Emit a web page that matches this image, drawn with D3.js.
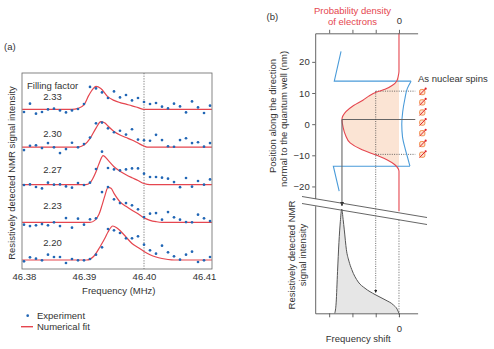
<!DOCTYPE html>
<html>
<head>
<meta charset="utf-8">
<script src="https://cdn.jsdelivr.net/npm/d3@7"></script>
<style>
  body { margin: 0; background: #fff; }
  svg { display: block; font-family: "Liberation Sans", Arial, Helvetica, sans-serif; }
</style>
</head>
<body>
<div id="chart"></div>
<script>
// ---------- panel (a): RD-NMR spectra ----------
var fillingFactors = ["2.33", "2.30", "2.27", "2.23", "2.20"];
var freqTicks = [46.38, 46.39, 46.40, 46.41];
var expFreq = [46.380, 46.381, 46.382, 46.383, 46.384, 46.385, 46.386, 46.387,
               46.388, 46.389, 46.390, 46.391, 46.392, 46.393, 46.394, 46.395,
               46.396, 46.397, 46.398, 46.399, 46.400, 46.401, 46.402, 46.403,
               46.404, 46.405, 46.406, 46.407, 46.408, 46.409, 46.410, 46.411];

// experiment points (arb. units, above each trace baseline)
var exp233 = [-2.6, 5.7, -4.3, -2.6, 0, 0.7, -1, -3, -1, 0.4, 5.4, 22.5, 21, 17, 11.4, 18,
              12, 14.4, 9, 11.4, 7.4, 5.4, 6.4, 2.7, 1, 5.7, 3, -3, 8, 2, -3.6, 3.7];
var exp230 = [-3, 1.3, 1.7, -1, 4, -0.3, -6, -2, 4.3, -0.3, 3, 9.5, 23.7, 24.5, 18.7, 14.8,
              16.3, 12.5, 17.8, 7.5, 6.8, 6.3, 12.2, 7, 0.8, 0.3, 7, 8.8, 4, 4.8, 0.4, 4];
var exp227 = [-0.3, 0.3, -2.3, -3.7, 2, 0, 0.3, -1.7, -3, 1.7, -0.3, 2, 15.7, 33, 16.7, 15.3,
              14.3, 15.3, 16.3, 16.3, 11, 7.7, 7.7, 7, 6, 2.6, -2.5, 6.7, -2, 3.7, 0, 5.3];
var exp223 = [-2.3, -3.7, -3, -1.7, -3, 0, -3.7, 4.3, -5.3, 3.7, -2.3, 3, 4, 30.3, 35.3, 23,
              19.3, 19.3, 17, 13, 5.3, 8.7, 9.3, 2.7, 10.3, 5, 2.7, 0.3, 0, 7.7, 4, 1.3];
var exp220 = [-1.3, 2.7, 1.3, -0.3, 5.3, 3, 3, -3, 1, -0.3, -0.3, 1, 5.3, 12.7, 31, 29.7,
              27, 21.7, 21.7, 23.7, 15.3, 9.7, 6.3, 14.3, 7.7, 3.7, 0.3, 5.3, 8.3, -2, -0.3, 3];

var fit233 = [[46.3797, 0], [46.388, 0], [46.389, 1], [46.390, 4.5], [46.3908, 14], [46.3915, 20.5],
              [46.392, 23], [46.3928, 21], [46.394, 12.5], [46.395, 9], [46.396, 6.8], [46.397, 5.2],
              [46.398, 3.6], [46.399, 1.8], [46.400, 0], [46.4113, 0]];
var fit230 = [[46.3797, 0], [46.389, 0], [46.390, 2], [46.391, 8.5], [46.392, 19], [46.3928, 25.5],
              [46.3935, 24], [46.394, 21], [46.395, 15.5], [46.396, 12], [46.397, 9.5], [46.398, 7],
              [46.399, 4], [46.400, 1], [46.4005, 0], [46.4113, 0]];
var fit227 = [[46.3797, 0], [46.3903, 0], [46.391, 2], [46.392, 13], [46.3925, 21], [46.3932, 29],
              [46.394, 24.5], [46.395, 18], [46.396, 13.5], [46.397, 10], [46.398, 7], [46.399, 4.2],
              [46.400, 1.2], [46.401, 0], [46.4113, 0]];
var fit223 = [[46.3797, 0], [46.391, 0], [46.3918, 2], [46.3925, 8], [46.393, 17], [46.3935, 27],
              [46.394, 35], [46.3945, 34], [46.395, 29], [46.396, 20.5], [46.397, 16], [46.398, 12],
              [46.399, 8.5], [46.400, 4.5], [46.401, 2], [46.402, 0.7], [46.403, 0], [46.4113, 0]];
var fit220 = [[46.3797, 0], [46.3905, 0], [46.3916, 3.5], [46.3927, 13.5], [46.3935, 22], [46.394, 28],
              [46.3948, 34], [46.3955, 32], [46.396, 29.5], [46.397, 23], [46.398, 16.5], [46.399, 12.5],
              [46.400, 8.5], [46.401, 5.3], [46.402, 3], [46.403, 1.5], [46.404, 0.5], [46.405, 0],
              [46.4113, 0]];

// ---------- panel (b): wavefunction and spectrum ----------
var positionTicks = [20, 10, 0, -10, -20];
var densityPos = [29.2, 17, 15.5, 13.8, 12.5, 11.2, 10.3, 9, 7.7, 6, 4, 1.5, -1, -3.5, -6, -8,
                  -10, -11.5, -12.8, -13.8, -15, -28];
var density = [0, 0, 0.03, 0.1, 0.28, 0.6, 0.96, 1.3, 1.55, 1.95, 2.28, 2.45, 2.4, 2.3, 2.1, 1.65,
               0.96, 0.5, 0.22, 0.08, 0, 0];
// quantum well potential, [density-axis units, position nm]
var wellTop = [[2.49, 23.4], [2.78, 13.8], [-0.52, 13.8]];
var wellWall = [[-0.52, 13.8], [-0.36, 11.5], [-0.25, 8], [-0.16, 4], [-0.12, 0], [-0.15, -4],
                [-0.27, -8], [-0.38, -11], [-0.47, -13.5]];
var wellBottom = [[-0.47, -13.5], [2.82, -13.5], [2.57, -21.5]];
var spinPos = [10.3, 7, 3.75, 0.5, -2.9, -6.4, -9.8];
var specShift = [-2.76, -2.7, -2.64, -2.58, -2.52, -2.46, -2.4, -2.35, -2.26, -2.15, -2.03, -1.75,
                 -1.46, -1.03, -0.6, -0.24, -0.08, 0];
var specSignal = [0, 0.1, 0.4, 0.68, 0.88, 1.0, 0.9, 0.8, 0.61, 0.5, 0.42, 0.3, 0.24, 0.18, 0.13,
                  0.08, 0.04, 0];

function init(){
    var w = 494;
    var h = 349;
    var fs = "9.5px";
    var textCol = "#333";
    var axisCol = "#555";
    var red = "#e5464f";
    var blue = "#2166b5";

    var svg = d3.select("#chart")
        .append("svg")
        .attr("width", w)
        .attr("height", h);

    // ================= panel (a) =================
    var fa = { left: 22, right: 212, top: 73, bottom: 269 };
    var xa = d3.scaleLinear().domain([46.37967, 46.41133]).range([fa.left, fa.right]);
    var ya = d3.scaleLinear().domain([-9, 187]).range([fa.bottom, fa.top]);
    var step = 37.65;

    var expSets = [exp233, exp230, exp227, exp223, exp220];
    var fitSets = [fit233, fit230, fit227, fit223, fit220];
    var traces = fillingFactors.map(function(f, i){
        return { label: f, idx: i, offset: (4 - i) * step, exp: expSets[i], fit: fitSets[i] };
    });

    svg.append("text").attr("x", 4).attr("y", 50)
        .style("font-size", fs).style("fill", textCol).text("(a)");

    // dotted marker at 46.40
    svg.append("line")
        .attr("x1", xa(46.40)).attr("x2", xa(46.40))
        .attr("y1", fa.top).attr("y2", fa.bottom)
        .attr("stroke", "#777").attr("stroke-width", 0.9)
        .attr("stroke-dasharray", "1.3,1.3");

    var fitLine = d3.line().curve(d3.curveMonotoneX);

    var g = svg.selectAll(".trace")
        .data(traces)
        .enter()
        .append("g")
        .attr("class", "trace");

    g.append("path")
        .attr("d", function(t){
            return fitLine(t.fit.map(function(p){ return [xa(p[0]), ya(p[1] + t.offset)]; }));
        })
        .attr("fill", "none")
        .attr("stroke", red)
        .attr("stroke-width", 1.2);

    g.selectAll("circle")
        .data(function(t){ return t.exp.map(function(v, j){ return { f: expFreq[j], v: v + t.offset }; }); })
        .enter()
        .append("circle")
        .attr("cx", d => xa(d.f))
        .attr("cy", d => ya(d.v))
        .attr("r", 1.35)
        .attr("fill", blue);

    // filling factor labels sit a little higher above the lower traces
    g.append("text")
        .attr("x", 52.5)
        .attr("y", t => ya(t.offset) - 9 - t.idx * 1.3)
        .attr("text-anchor", "middle")
        .style("font-size", fs).style("fill", textCol)
        .text(t => t.label);

    svg.append("text")
        .attr("x", 27).attr("y", ya(traces[0].offset) - 20.5)
        .style("font-size", fs).style("fill", textCol)
        .text("Filling factor");

    // frame
    svg.append("rect")
        .attr("x", fa.left).attr("y", fa.top)
        .attr("width", fa.right - fa.left).attr("height", fa.bottom - fa.top)
        .attr("fill", "none").attr("stroke", "#666").attr("stroke-width", 0.8);

    var xAxisA = svg.append("g")
        .attr("transform", `translate(0,${fa.bottom})`)
        .call(d3.axisBottom(xa).tickValues(freqTicks).tickFormat(d3.format(".2f")).tickSize(0).tickPadding(4));
    xAxisA.select(".domain").remove();
    xAxisA.selectAll("text").style("font-size", fs).style("fill", textCol).attr("font-family", null);

    svg.append("text")
        .attr("text-anchor", "middle")
        .attr("x", 118.8).attr("y", 294)
        .style("font-size", fs).style("fill", textCol)
        .text("Frequency (MHz)");

    svg.append("text")
        .attr("text-anchor", "middle")
        .attr("transform", `translate(15,${(fa.top + fa.bottom) / 2 + 2}) rotate(-90)`)
        .style("font-size", fs).style("fill", textCol)
        .text("Resistively detected NMR signal intensity");

    // legend
    svg.append("circle").attr("cx", 27.7).attr("cy", 315.7).attr("r", 1.35).attr("fill", blue);
    svg.append("text").attr("x", 37).attr("y", 318.7)
        .style("font-size", fs).style("fill", textCol).text("Experiment");
    svg.append("line").attr("x1", 21).attr("x2", 33).attr("y1", 326.7).attr("y2", 326.7)
        .attr("stroke", red).attr("stroke-width", 1.4);
    svg.append("text").attr("x", 37).attr("y", 329.7)
        .style("font-size", fs).style("fill", textCol).text("Numerical fit");

    // ================= panel (b) =================
    var xDens = d3.scaleLinear().domain([3.6, -0.8]).range([315.2, 417.6]);
    var xShift = d3.scaleLinear().domain([-3.6, 0.8]).range([315.2, 417.6]);
    var yPos = d3.scaleLinear().domain([29.17, -23.9]).range([33.3, 198.6]);
    var ySig = d3.scaleLinear().domain([0, 1.032]).range([313.3, 205.7]);

    // broken-axis lines
    var brk = { x0: 302, x1: 427, y0: 196.5, y1: 217.5, gap: 7 };
    function brkY(x, k){ return brk.y0 + (x - brk.x0) * (brk.y1 - brk.y0) / (brk.x1 - brk.x0) + k * brk.gap; }

    svg.append("text").attr("x", 266.5).attr("y", 20)
        .style("font-size", fs).style("fill", textCol).text("(b)");
    svg.append("text").attr("x", 352.5).attr("y", 13.5).attr("text-anchor", "middle")
        .style("font-size", fs).style("fill", red).text("Probability density");
    svg.append("text").attr("x", 352.5).attr("y", 25).attr("text-anchor", "middle")
        .style("font-size", fs).style("fill", red).text("of electrons");

    var pts = density.map(function(d, i){ return [d, densityPos[i]]; });

    // shaded electron density
    svg.append("path")
        .attr("d", d3.area()
            .curve(d3.curveMonotoneY)
            .y(p => yPos(p[1]))
            .x0(xDens(0))
            .x1(p => xDens(p[0]))(pts))
        .attr("fill", "#fbe4d4");

    // dotted guides at half density
    var dotted = [10.6, -9.7];
    svg.selectAll(".hdot")
        .data(dotted)
        .enter()
        .append("line")
        .attr("x1", xDens(1.0)).attr("x2", xDens(-0.7))
        .attr("y1", d => yPos(d)).attr("y2", d => yPos(d))
        .attr("stroke", "#444").attr("stroke-width", 0.8).attr("stroke-dasharray", "1,1.3");

    // potential profile
    var lin = d3.line().x(p => xDens(p[0])).y(p => yPos(p[1]));
    [wellTop, wellBottom].forEach(function(seg){
        svg.append("path").attr("d", lin(seg))
            .attr("fill", "none").attr("stroke", "#4a9bd9").attr("stroke-width", 1.1);
    });
    svg.append("path").attr("d", lin.curve(d3.curveMonotoneY)(wellWall))
        .attr("fill", "none").attr("stroke", "#4a9bd9").attr("stroke-width", 1.1);

    // density curve
    svg.append("path")
        .attr("d", d3.line().curve(d3.curveMonotoneY).x(p => xDens(p[0])).y(p => yPos(p[1]))(pts))
        .attr("fill", "none").attr("stroke", red).attr("stroke-width", 1.1);

    // arrow markers
    var defs = svg.append("defs");
    defs.append("marker").attr("id", "ah").attr("viewBox", "0 0 6 6")
        .attr("refX", 6).attr("refY", 3).attr("markerWidth", 4).attr("markerHeight", 4)
        .attr("orient", "auto")
        .append("path").attr("d", "M0,0L6,3L0,6Z").attr("fill", "#222");

    // peak line and arrow
    var peakD = 2.45, peakPos = 1.5;
    svg.append("line")
        .attr("x1", xDens(peakD)).attr("x2", xDens(-0.7))
        .attr("y1", yPos(peakPos)).attr("y2", yPos(peakPos))
        .attr("stroke", "#666").attr("stroke-width", 1.1);
    svg.append("line")
        .attr("x1", xDens(peakD)).attr("x2", xDens(peakD))
        .attr("y1", yPos(peakPos)).attr("y2", ySig(1) - 3)
        .attr("stroke", "#666").attr("stroke-width", 1.1)
        .attr("marker-end", "url(#ah)");

    // spins
    var spins = svg.selectAll(".spin")
        .data(spinPos)
        .enter()
        .append("g")
        .attr("class", "spin")
        .attr("transform", d => `translate(${xDens(-1.0)},${yPos(d)})`);
    spins.append("rect").attr("x", -2.6).attr("y", -2.6).attr("width", 5.2).attr("height", 5.2)
        .attr("rx", 1.6).attr("fill", "#fde3cf").attr("stroke", "#f0823c").attr("stroke-width", 0.9);
    spins.append("line").attr("x1", -2.8).attr("y1", 3).attr("x2", 3).attr("y2", -3)
        .attr("stroke", "#e0262b").attr("stroke-width", 1);
    spins.append("circle").attr("cx", 3.4).attr("cy", -3.4).attr("r", 1.1).attr("fill", "#e0262b");

    svg.append("text").attr("x", 418).attr("y", 82)
        .style("font-size", fs).style("fill", textCol).text("As nuclear spins");

    // top axis (density)
    var topAx = svg.append("g")
        .attr("transform", `translate(0,${yPos.range()[0]})`)
        .call(d3.axisTop(xDens).tickValues([3, 2, 1, 0]).tickFormat(d => d === 0 ? "0" : "")
            .tickSize(3.5).tickSizeOuter(0).tickPadding(5.5));
    // left axis (position)
    var leftAx = svg.append("g")
        .attr("transform", `translate(315.2,0)`)
        .call(d3.axisLeft(yPos).tickValues(positionTicks).tickSize(3).tickSizeOuter(0).tickPadding(2.5));

    svg.append("text").attr("text-anchor", "middle")
        .attr("transform", `translate(276,116) rotate(-90)`)
        .style("font-size", fs).style("fill", textCol).text("Position along the direction");
    svg.append("text").attr("text-anchor", "middle")
        .attr("transform", `translate(286.7,119) rotate(-90)`)
        .style("font-size", fs).style("fill", textCol).text("normal to the quantum well (nm)");

    // ---------- lower: spectrum ----------
    var spec = specShift.map(function(s, i){ return [s, specSignal[i]]; });
    svg.append("path")
        .attr("d", d3.area().curve(d3.curveMonotoneX)
            .x(p => xShift(p[0])).y0(ySig(0)).y1(p => ySig(p[1]))(spec))
        .attr("fill", "#e6e6e6");
    svg.append("path")
        .attr("d", d3.line().curve(d3.curveMonotoneX)
            .x(p => xShift(p[0])).y(p => ySig(p[1]))(spec))
        .attr("fill", "none").attr("stroke", "#555").attr("stroke-width", 1);

    // zero-shift dashed line
    svg.append("line")
        .attr("x1", xShift(0)).attr("x2", xShift(0))
        .attr("y1", brkY(xShift(0), 1)).attr("y2", ySig(0) + 3)
        .attr("stroke", "#777").attr("stroke-width", 0.9).attr("stroke-dasharray", "1.3,1.3");

    // dotted arrow from half density to the spectrum
    svg.append("line")
        .attr("x1", xDens(1.0)).attr("x2", xDens(1.0))
        .attr("y1", yPos(dotted[0]))
        .attr("y2", ySig(0.185) - 1)
        .attr("stroke", "#444").attr("stroke-width", 0.8).attr("stroke-dasharray", "1,1.3")
        .attr("marker-end", "url(#ah)");

    var botAx = svg.append("g")
        .attr("transform", `translate(0,${ySig(0)})`)
        .call(d3.axisBottom(xShift).tickValues([-3, -2, -1, 0]).tickFormat(d => d === 0 ? "0" : "")
            .tickSize(4).tickSizeOuter(0).tickPadding(8));
    var lowLeftAx = svg.append("g")
        .attr("transform", `translate(315.2,0)`)
        .call(d3.axisLeft(ySig).tickValues([]).tickSizeOuter(0));

    [topAx, leftAx, botAx, lowLeftAx].forEach(function(ax){
        ax.selectAll("path, line").attr("stroke", axisCol).attr("stroke-width", 0.9);
        ax.selectAll("text").style("font-size", fs).style("fill", textCol).attr("font-family", null);
    });

    // break lines
    [0, 1].forEach(function(k){
        svg.append("line")
            .attr("x1", brk.x0).attr("y1", brkY(brk.x0, k))
            .attr("x2", brk.x1).attr("y2", brkY(brk.x1, k))
            .attr("stroke", "#555").attr("stroke-width", 0.9);
    });

    svg.append("text").attr("text-anchor", "middle")
        .attr("x", 358.3).attr("y", 341.8)
        .style("font-size", fs).style("fill", textCol).text("Frequency shift");
    svg.append("text").attr("text-anchor", "middle")
        .attr("transform", `translate(295,255) rotate(-90)`)
        .style("font-size", fs).style("fill", textCol).text("Resistively detected NMR");
    svg.append("text").attr("text-anchor", "middle")
        .attr("transform", `translate(306.4,255) rotate(-90)`)
        .style("font-size", fs).style("fill", textCol).text("signal intensity");
}

window.onload = init;
</script>
</body>
</html>
